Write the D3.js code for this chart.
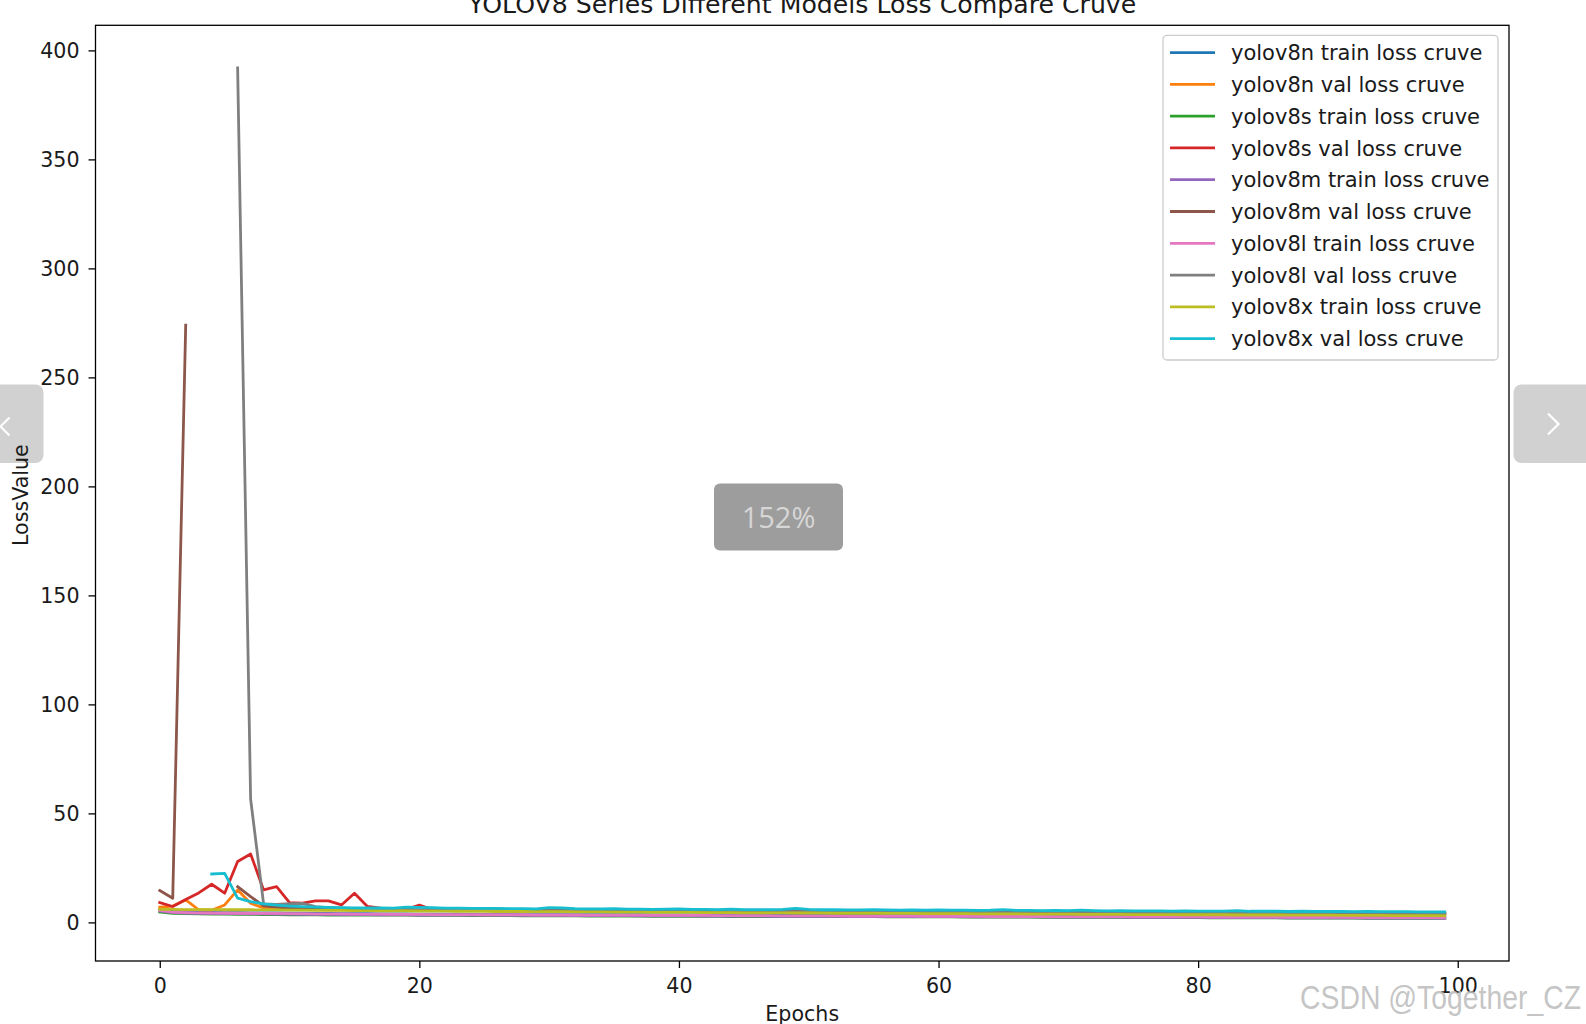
<!DOCTYPE html>
<html>
<head>
<meta charset="utf-8">
<script src="https://cdn.jsdelivr.net/npm/d3@7"></script>
<style>
  html, body { margin: 0; padding: 0; background: #ffffff; overflow: hidden; }
  svg { display: block; }
</style>
</head>
<body>
<svg id="chart" width="1586" height="1024"></svg>
<script>
// ---------------- DATA ----------------
const chartTitle = "YOLOV8 Series Different Models Loss Compare Cruve";
const xLabel = "Epochs";
const yLabel = "LossValue";
const epochs = d3.range(0, 100);
const xTicks = [0, 20, 40, 60, 80, 100];
const yTicks = [0, 50, 100, 150, 200, 250, 300, 350, 400];

const seriesNames = [
  "yolov8n train loss cruve", "yolov8n val loss cruve",
  "yolov8s train loss cruve", "yolov8s val loss cruve",
  "yolov8m train loss cruve", "yolov8m val loss cruve",
  "yolov8l train loss cruve", "yolov8l val loss cruve",
  "yolov8x train loss cruve", "yolov8x val loss cruve"
];
const seriesColors = ["#1f77b4", "#ff7f0e", "#2ca02c", "#d62728", "#9467bd",
                      "#8c564b", "#e377c2", "#7f7f7f", "#bcbd22", "#17becf"];

const v8nTrain = [5.9,5.1,4.8,4.7,4.6,4.5,4.5,4.4,4.3,4.3,
  4.2,4.2,4.1,4.1,4.0,4.0,4.0,3.9,3.9,3.9,
  3.8,3.8,3.8,3.8,3.7,3.7,3.7,3.7,3.6,3.6,
  3.6,3.6,3.6,3.5,3.5,3.5,3.5,3.5,3.4,3.4,
  3.4,3.4,3.4,3.4,3.3,3.3,3.3,3.3,3.3,3.3,
  3.2,3.2,3.2,3.2,3.2,3.2,3.1,3.1,3.1,3.1,
  3.1,3.1,3.0,3.0,3.0,3.0,3.0,3.0,2.9,2.9,
  2.9,2.9,2.9,2.9,2.8,2.8,2.8,2.8,2.8,2.8,
  2.7,2.7,2.7,2.7,2.7,2.7,2.6,2.6,2.6,2.6,
  2.5,2.5,2.5,2.5,2.5,2.4,2.4,2.4,2.4,2.4];
const v8nVal = [7.0,7.5,10.3,5.8,5.6,8.0,14.9,8.8,6.6,6.2,
  6.0,5.9,5.9,5.8,5.8,5.7,5.7,5.6,5.6,5.6,
  5.5,5.5,5.4,5.5,5.4,5.4,5.3,5.4,5.3,5.3,
  5.3,5.2,5.3,5.2,5.2,5.2,5.1,5.2,5.1,5.1,
  5.1,5.0,5.1,5.0,5.0,5.0,5.0,4.9,5.0,4.9,
  4.9,4.9,4.9,4.8,4.9,4.8,4.8,4.8,4.8,4.7,
  4.8,4.7,4.7,4.7,4.7,4.6,4.7,4.6,4.6,4.6,
  4.6,4.6,4.5,4.6,4.5,4.5,4.5,4.5,4.5,4.4,
  4.5,4.4,4.4,4.4,4.4,4.4,4.3,4.4,4.3,4.3,
  4.3,4.3,4.3,4.3,4.2,4.3,4.2,4.2,4.2,4.2];
const v8sTrain = [4.8,4.2,4.0,3.9,3.8,3.8,3.7,3.7,3.6,3.6,
  3.5,3.5,3.5,3.4,3.4,3.4,3.3,3.3,3.3,3.3,
  3.2,3.2,3.2,3.2,3.1,3.1,3.1,3.1,3.0,3.0,
  3.0,3.0,3.0,2.9,2.9,2.9,2.9,2.9,2.8,2.8,
  2.8,2.8,2.8,2.8,2.7,2.7,2.7,2.7,2.7,2.7,
  2.6,2.6,2.6,2.6,2.6,2.6,2.5,2.5,2.5,2.5,
  2.5,2.5,2.4,2.4,2.4,2.4,2.4,2.4,2.3,2.3,
  2.3,2.3,2.3,2.3,2.3,2.2,2.2,2.2,2.2,2.2,
  2.2,2.1,2.1,2.1,2.1,2.1,2.1,2.0,2.0,2.0,
  2.0,2.0,2.0,1.9,1.9,1.9,1.9,1.9,1.8,1.8];
const v8sVal = [9.1,7.3,10.5,13.5,17.5,13.4,27.9,31.4,14.9,16.4,
  9.1,8.8,9.9,9.9,8.0,13.4,7.3,6.5,6.2,6.0,
  7.9,5.9,5.8,5.8,5.7,5.7,5.6,5.6,5.6,5.5,
  5.5,5.5,5.4,5.4,5.4,5.3,5.3,5.3,5.3,5.2,
  5.2,5.2,5.1,5.2,5.1,5.1,5.0,5.1,5.0,5.0,
  5.0,5.0,4.9,4.9,4.9,4.9,4.8,4.8,4.8,4.8,
  4.7,4.8,4.7,4.7,4.7,4.6,4.6,4.6,4.6,4.6,
  4.5,4.5,4.5,4.5,4.5,4.4,4.4,4.4,4.4,4.4,
  4.3,4.3,4.3,4.3,4.3,4.2,4.2,4.2,4.2,4.2,
  4.1,4.1,4.1,4.1,4.1,4.1,4.0,4.0,4.0,4.0];
const v8mTrain = [5.2,4.5,4.3,4.2,4.1,4.0,4.0,3.9,3.9,3.8,
  3.8,3.7,3.7,3.7,3.6,3.6,3.6,3.5,3.5,3.5,
  3.4,3.4,3.4,3.4,3.3,3.3,3.3,3.3,3.2,3.2,
  3.2,3.2,3.1,3.1,3.1,3.1,3.1,3.0,3.0,3.0,
  3.0,3.0,2.9,2.9,2.9,2.9,2.9,2.8,2.8,2.8,
  2.8,2.8,2.8,2.7,2.7,2.7,2.7,2.7,2.6,2.6,
  2.6,2.6,2.6,2.5,2.5,2.5,2.5,2.5,2.5,2.4,
  2.4,2.4,2.4,2.4,2.4,2.3,2.3,2.3,2.3,2.3,
  2.3,2.2,2.2,2.2,2.2,2.2,2.2,2.1,2.1,2.1,
  2.1,2.1,2.1,2.0,2.0,2.0,2.0,2.0,2.0,1.9];
const v8mVal = [14.6,11.1,274,null,null,null,16.4,11.8,7.6,7.0,
  6.5,6.3,6.1,6.0,5.9,5.8,5.8,5.7,5.7,5.6,
  5.6,5.5,5.5,5.5,5.4,5.4,5.4,5.3,5.3,5.3,
  5.2,5.2,5.2,5.2,5.1,5.1,5.1,5.1,5.0,5.0,
  5.0,5.0,4.9,4.9,4.9,4.9,4.9,4.8,4.8,4.8,
  4.8,4.8,4.7,4.7,4.7,4.7,4.7,4.6,4.6,4.6,
  4.6,4.6,4.5,4.5,4.5,4.5,4.5,4.5,4.4,4.4,
  4.4,4.4,4.4,4.3,4.3,4.3,4.3,4.3,4.3,4.2,
  4.2,4.2,4.2,4.2,4.2,4.1,4.1,4.1,4.1,4.1,
  4.1,4.0,4.0,4.0,4.0,4.0,4.0,3.9,3.9,3.9];
const v8lTrain = [5.5,4.7,4.5,4.4,4.3,4.3,4.2,4.2,4.1,4.1,
  4.0,4.0,3.9,3.9,3.9,3.8,3.8,3.8,3.7,3.7,
  3.7,3.6,3.6,3.6,3.6,3.5,3.5,3.5,3.5,3.4,
  3.4,3.4,3.4,3.3,3.3,3.3,3.3,3.3,3.2,3.2,
  3.2,3.2,3.2,3.1,3.1,3.1,3.1,3.1,3.0,3.0,
  3.0,3.0,3.0,2.9,2.9,2.9,2.9,2.9,2.9,2.8,
  2.8,2.8,2.8,2.8,2.7,2.7,2.7,2.7,2.7,2.6,
  2.6,2.6,2.6,2.6,2.6,2.5,2.5,2.5,2.5,2.5,
  2.5,2.4,2.4,2.4,2.4,2.4,2.4,2.3,2.3,2.3,
  2.3,2.3,2.3,2.2,2.2,2.2,2.2,2.2,2.2,2.1];
const v8lVal = [null,null,null,null,null,null,392,56.6,8.5,8.2,
  8.6,8.7,7.2,6.8,6.5,6.3,6.1,6.0,5.9,5.8,
  5.8,5.7,5.7,5.6,5.6,5.5,5.5,5.5,5.4,5.4,
  5.4,5.3,5.3,5.3,5.2,5.2,5.2,5.2,5.1,5.1,
  5.1,5.1,5.0,5.0,5.0,5.0,4.9,4.9,4.9,4.9,
  4.9,4.8,4.8,4.8,4.8,4.7,4.7,4.7,4.7,4.7,
  4.6,4.6,4.6,4.6,4.6,4.5,4.5,4.5,4.5,4.5,
  4.4,4.4,4.4,4.4,4.4,4.4,4.3,4.3,4.3,4.3,
  4.3,4.2,4.2,4.2,4.2,4.2,4.2,4.1,4.1,4.1,
  4.1,4.1,4.1,4.0,4.0,4.0,4.0,4.0,4.0,3.9];
const v8xTrain = [6.0,6.0,5.9,5.9,5.9,5.8,5.8,5.8,5.7,5.7,
  5.6,5.6,5.5,5.5,5.5,5.4,5.4,5.3,5.3,5.3,
  5.2,5.2,5.2,5.1,5.1,5.1,5.0,5.0,5.0,4.9,
  4.9,4.9,4.8,4.8,4.8,4.7,4.7,4.7,4.6,4.6,
  4.6,4.6,4.5,4.5,4.5,4.4,4.4,4.4,4.4,4.3,
  4.3,4.3,4.2,4.2,4.2,4.2,4.1,4.1,4.1,4.0,
  4.0,4.0,4.0,3.9,3.9,3.9,3.9,3.8,3.8,3.8,
  3.8,3.7,3.7,3.7,3.7,3.6,3.6,3.6,3.6,3.5,
  3.5,3.5,3.5,3.4,3.4,3.4,3.4,3.3,3.3,3.3,
  3.3,3.2,3.2,3.2,3.2,3.1,3.1,3.1,3.1,3.0];
const v8xVal = [null,null,null,null,22.2,22.5,11.1,9.5,8.5,7.9,
  7.5,7.2,7.0,6.9,6.8,6.7,6.6,6.6,6.5,7.0,
  6.9,6.8,6.5,6.5,6.4,6.4,6.4,6.3,6.3,6.2,
  6.8,6.6,6.3,6.2,6.2,6.3,6.1,6.1,6.0,6.1,
  6.2,6.0,6.0,5.9,6.1,5.9,5.9,5.9,6.0,6.4,
  6.0,5.8,5.8,5.7,5.7,5.8,5.7,5.6,5.7,5.6,
  5.7,5.6,5.6,5.5,5.6,5.9,5.5,5.5,5.4,5.5,
  5.4,5.6,5.4,5.3,5.4,5.3,5.3,5.3,5.2,5.3,
  5.2,5.2,5.2,5.4,5.1,5.1,5.1,5.0,5.1,5.0,
  5.0,5.0,4.9,5.0,4.9,4.9,4.9,4.8,4.8,4.8];

const seriesValues = [v8nTrain, v8nVal, v8sTrain, v8sVal, v8mTrain,
                      v8mVal, v8lTrain, v8lVal, v8xTrain, v8xVal];

const zoomText = "152%";
const watermarkText = "CSDN @Together_CZ";

// ---------------- LAYOUT ----------------
const svg = d3.select("#chart");
const plot = { left: 95.5, right: 1509, top: 25.3, bottom: 961 };
const FONT = "'DejaVu Sans', sans-serif";
const TICK_FS = "20.6px";
const LABEL_FS = "20.6px";
const LEGEND_FS = "21px";
const TITLE_FS = "25.2px";

// matplotlib-like autoscale with 5% margins
const xMin = 0, xMax = epochs.length - 1;
const xPad = (xMax - xMin) * 0.05;
const allVals = seriesValues.flat().filter(v => v != null);
const [yMin, yMax] = d3.extent(allVals);
const yPad = (yMax - yMin) * 0.05;

const x = d3.scaleLinear().domain([xMin - xPad, xMax + xPad]).range([plot.left, plot.right]);
const y = d3.scaleLinear().domain([yMin - yPad, yMax + yPad]).range([plot.bottom, plot.top]);

svg.append("rect").attr("width", 1586).attr("height", 1024).attr("fill", "#ffffff");

svg.append("defs").append("clipPath").attr("id", "plotclip")
  .append("rect").attr("x", plot.left).attr("y", plot.top)
  .attr("width", plot.right - plot.left).attr("height", plot.bottom - plot.top);

// lines
const line = d3.line()
  .defined(d => d.v != null)
  .x(d => x(d.e))
  .y(d => y(d.v));

const linesG = svg.append("g").attr("clip-path", "url(#plotclip)");
seriesValues.forEach((vals, i) => {
  const pts = vals.map((v, j) => ({ e: epochs[j], v: v }));
  linesG.append("path")
    .datum(pts)
    .attr("fill", "none")
    .attr("stroke", seriesColors[i])
    .attr("stroke-width", 2.8)
    .attr("stroke-linejoin", "round")
    .attr("stroke-linecap", "square")
    .attr("d", line);
});

// axes
const xAxis = d3.axisBottom(x).tickValues(xTicks).tickSize(7).tickPadding(10).tickFormat(d3.format("d"));
const yAxis = d3.axisLeft(y).tickValues(yTicks).tickSize(7).tickPadding(9).tickFormat(d3.format("d"));

const gx = svg.append("g").attr("transform", `translate(0,${plot.bottom})`).call(xAxis);
const gy = svg.append("g").attr("transform", `translate(${plot.left},0)`).call(yAxis);
[gx, gy].forEach(g => {
  g.select(".domain").remove();
  g.selectAll(".tick line").attr("stroke", "#000").attr("stroke-width", 1.3);
  g.selectAll(".tick text").attr("fill", "#1a1a1a").style("font-family", FONT).style("font-size", TICK_FS);
});
gy.selectAll(".tick text").attr("dy", "0.36em");

// spines
svg.append("rect")
  .attr("x", plot.left).attr("y", plot.top)
  .attr("width", plot.right - plot.left).attr("height", plot.bottom - plot.top)
  .attr("fill", "none").attr("stroke", "#000").attr("stroke-width", 1.3);

// legend
const leg = { x: 1163, y: 35.4, w: 335, h: 324.6, rowY0: 52.6, rowH: 31.78 };
const lg = svg.append("g");
lg.append("rect").attr("x", leg.x).attr("y", leg.y).attr("width", leg.w).attr("height", leg.h)
  .attr("rx", 4).attr("fill", "#ffffff").attr("fill-opacity", 0.8)
  .attr("stroke", "#cccccc").attr("stroke-width", 1.3);
seriesNames.forEach((name, i) => {
  const cy = leg.rowY0 + i * leg.rowH;
  lg.append("line").attr("x1", 1170).attr("x2", 1215).attr("y1", cy).attr("y2", cy)
    .attr("stroke", seriesColors[i]).attr("stroke-width", 2.8);
  lg.append("text").attr("x", 1231).attr("y", cy).attr("dy", "0.36em")
    .style("font-family", FONT).style("font-size", LEGEND_FS).attr("fill", "#1a1a1a").text(name);
});

// ---------- viewer overlays ----------
// left nav button
svg.append("rect").attr("x", -12).attr("y", 384.5).attr("width", 55.5).attr("height", 78.5)
  .attr("rx", 8).attr("fill", "#cfcfcf").attr("fill-opacity", 0.95);
svg.append("path").attr("d", "M9.5,417.5 L0.5,426.5 L9.5,435.5")
  .attr("fill", "none").attr("stroke", "#ffffff").attr("stroke-width", 2.2);
// right nav button
svg.append("rect").attr("x", 1513.5).attr("y", 384.5).attr("width", 85).attr("height", 78.5)
  .attr("rx", 8).attr("fill", "#cfcfcf").attr("fill-opacity", 0.95);
svg.append("path").attr("d", "M1548,413.5 L1558.5,424 L1548,434.5")
  .attr("fill", "none").attr("stroke", "#ffffff").attr("stroke-width", 2.2);

// title & axis labels (label stays readable over the nav button, as in the reference)
svg.append("text").attr("x", (plot.left + plot.right) / 2).attr("y", 12.5)
  .attr("text-anchor", "middle").style("font-family", FONT).style("font-size", TITLE_FS)
  .attr("fill", "#1a1a1a").text(chartTitle);
svg.append("text").attr("x", (plot.left + plot.right) / 2).attr("y", 1021)
  .attr("text-anchor", "middle").style("font-family", FONT).style("font-size", LABEL_FS)
  .attr("fill", "#1a1a1a").text(xLabel);
svg.append("text").attr("transform", `translate(28,${(plot.top + plot.bottom) / 2 + 2}) rotate(-90)`)
  .attr("text-anchor", "middle").style("font-family", FONT).style("font-size", LABEL_FS)
  .attr("fill", "#1a1a1a").text(yLabel);

// zoom badge
svg.append("rect").attr("x", 714).attr("y", 483.5).attr("width", 129).attr("height", 67)
  .attr("rx", 6).attr("fill", "#9d9d9d");
svg.append("text").attr("x", 778.5).attr("y", 527.5).attr("text-anchor", "middle")
  .style("font-family", "'Open Sans', 'Noto Sans', sans-serif").style("font-size", "29px")
  .attr("fill", "#d6d6d6").text(zoomText);
// watermark
svg.append("text").attr("x", 1300).attr("y", 1008.5)
  .attr("textLength", 281).attr("lengthAdjust", "spacingAndGlyphs")
  .style("font-family", "'Liberation Sans Narrow', 'Liberation Sans', sans-serif").style("font-size", "34px")
  .attr("fill", "#bdbdbd").attr("fill-opacity", 0.9).text(watermarkText);
</script>
</body>
</html>
